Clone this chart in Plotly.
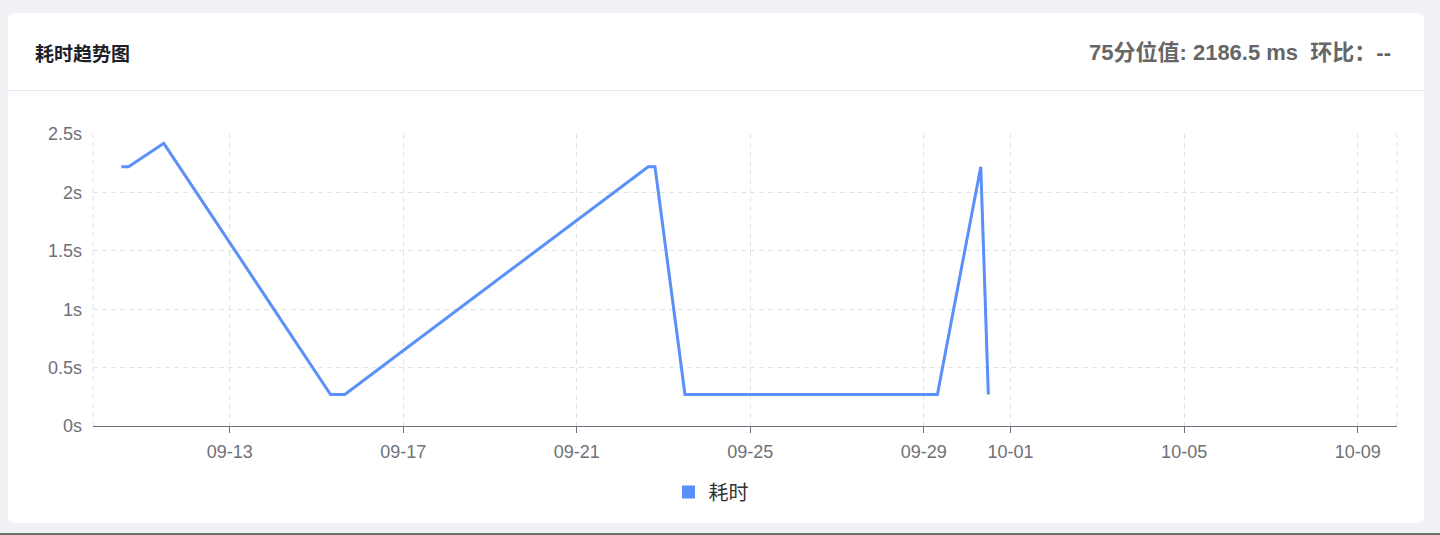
import plotly.graph_objects as go

# ---- data ----
timestamps = ["2023-09-10 12:00", "2023-09-10 16:00", "2023-09-11 11:30",
              "2023-09-15 07:45", "2023-09-15 15:40", "2023-09-22 15:30",
              "2023-09-22 19:15", "2023-09-23 11:50", "2023-09-29 07:30",
              "2023-09-30 07:30", "2023-09-30 11:40"]
duration_ms = [2220, 2220, 2420, 270, 270, 2220, 2220, 270, 270, 2220, 270]
x_tick_dates = ["2023-09-13", "2023-09-17", "2023-09-21", "2023-09-25",
                "2023-09-29", "2023-10-01", "2023-10-05", "2023-10-09"]
x_tick_labels = ["09-13", "09-17", "09-21", "09-25", "09-29", "10-01", "10-05", "10-09"]
y_tick_vals = [0, 500, 1000, 1500, 2000, 2500]
y_tick_labels = ["0s", "0.5s", "1s", "1.5s", "2s", "2.5s"]
series_name = "耗时"
title_text = "耗时趋势图"
summary_text = "75分位值: 2186.5 ms  环比：--"

# ---- layout geometry (pixels) ----
W, H = 1440, 535
L, R, T, B = 93, 43, 134, 109
PW, PH = W - L - R, H - T - B
BOT = H - B

def px(x):
    return (x - L) / PW

def py(y):
    return (BOT - y) / PH

def rounded_rect(x0, y0, x1, y1, r):
    rx, ry = r / PW, r / PH
    X0, X1 = px(x0), px(x1)
    Y0, Y1 = py(y1), py(y0)
    return (f"M{X0+rx},{Y1} L{X1-rx},{Y1} Q{X1},{Y1} {X1},{Y1-ry} "
            f"L{X1},{Y0+ry} Q{X1},{Y0} {X1-rx},{Y0} L{X0+rx},{Y0} "
            f"Q{X0},{Y0} {X0},{Y0+ry} L{X0},{Y1-ry} Q{X0},{Y1} {X0+rx},{Y1} Z")

BLUE = "#5B8FF9"
GRID = "#DFE4EA"
AXIS = "#6E7079"
DASH = "5px,4px"
FONT = "Liberation Sans, Noto Sans CJK SC, sans-serif"

fig = go.Figure()
fig.add_trace(go.Scatter(x=timestamps, y=duration_ms, mode="lines",
                         line=dict(color=BLUE, width=3), name=series_name,
                         showlegend=False))
fig.add_trace(go.Scatter(x=[None], y=[None], mode="markers",
                         marker=dict(symbol="square", color=BLUE, size=13),
                         name=series_name, showlegend=True))

shapes = [
    dict(type="path", xref="paper", yref="paper", path=rounded_rect(8, 13, 1424, 523, 8),
         fillcolor="white", line=dict(width=0), layer="below"),
    dict(type="line", xref="paper", yref="paper", x0=px(8), x1=px(1424), y0=py(90.5), y1=py(90.5),
         line=dict(color="#E6E8EB", width=1), layer="below"),
    dict(type="line", xref="paper", yref="paper", x0=0, x1=0, y0=0, y1=1,
         line=dict(color=GRID, width=1, dash=DASH), layer="below"),
    dict(type="line", xref="paper", yref="paper", x0=1, x1=1, y0=0, y1=1,
         line=dict(color=GRID, width=1, dash=DASH), layer="below"),
    dict(type="rect", xref="paper", yref="paper", x0=px(0), x1=px(W), y0=py(535), y1=py(533),
         fillcolor="#707070", line=dict(width=0), layer="below"),
]

annotations = [
    dict(xref="paper", yref="paper", x=px(33), y=py(53), xanchor="left", yanchor="middle",
         text=f"<b>{title_text}</b>", showarrow=False,
         font=dict(family="Noto Sans CJK SC", size=19, color="#1D2129")),
    dict(xref="paper", yref="paper", x=px(1393), y=py(52), xanchor="right", yanchor="middle",
         text=f"<b>{summary_text}</b>", showarrow=False,
         font=dict(family=FONT, size=22, color="#666666")),
]

fig.update_layout(
    width=W, height=H, autosize=False,
    margin=dict(l=L, r=R, t=T, b=B, pad=0),
    paper_bgcolor="#EFF1F4", plot_bgcolor="rgba(0,0,0,0)",
    font=dict(family=FONT, size=18, color=AXIS),
    shapes=shapes, annotations=annotations,
    legend=dict(orientation="h", x=px(711), y=py(492), xanchor="center", yanchor="middle",
                font=dict(family="Noto Sans CJK SC", size=20, color="#333333"),
                bgcolor="rgba(0,0,0,0)"),
    xaxis=dict(type="date", range=["2023-09-09 20:20", "2023-10-09 21:46"],
               tickvals=x_tick_dates, ticktext=x_tick_labels,
               showgrid=True, gridcolor=GRID, griddash=DASH, gridwidth=1,
               showline=True, linecolor=AXIS, linewidth=1,
               ticks="outside", ticklen=6, tickcolor=AXIS, tickwidth=1,
               ticklabelstandoff=3, zeroline=False,
               tickfont=dict(size=18, color=AXIS)),
    yaxis=dict(range=[0, 2500], tickvals=y_tick_vals, ticktext=y_tick_labels,
               showgrid=True, gridcolor=GRID, griddash=DASH, gridwidth=1,
               showline=False, zeroline=False, ticks="",
               ticklabelstandoff=10, tickfont=dict(size=18, color=AXIS)),
)

fig.write_html("out.html", config={"displayModeBar": False},
               post_script="document.body.style.margin='0';document.body.style.background='#EFF1F4';")
